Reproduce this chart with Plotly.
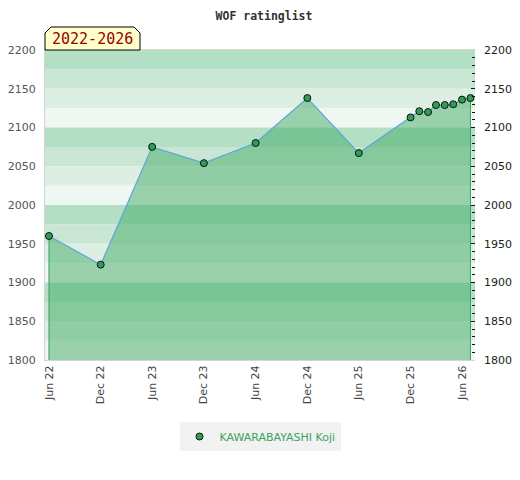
import plotly.graph_objects as go

# rating history
dates = ["2022-06-01", "2022-12-01", "2023-06-01", "2023-12-01", "2024-06-01",
         "2024-12-01", "2025-06-01", "2025-12-01", "2026-01-01", "2026-02-01",
         "2026-03-01", "2026-04-01", "2026-05-01", "2026-06-01", "2026-07-01"]
ratings = [1960, 1923, 2075, 2054, 2080, 2138, 2067, 2113, 2121, 2120,
           2129, 2129, 2130, 2136, 2138]
player = "KAWARABAYASHI Koji"
period = "2022-2026"

y_min, y_max = 1800, 2200
tick_dates = ["2022-06-01", "2022-12-01", "2023-06-01", "2023-12-01", "2024-06-01",
              "2024-12-01", "2025-06-01", "2025-12-01", "2026-06-01"]
tick_text = ["Jun 22", "Dec 22", "Jun 23", "Dec 23", "Jun 24",
             "Dec 24", "Jun 25", "Dec 25", "Jun 26"]

band_colors = ["#b3dfc4", "#c8e6d3", "#dcefe2", "#eef7f1"]
green = "#3aa35d"

fig = go.Figure()

# area under the line
fig.add_trace(go.Scatter(x=dates, y=ratings, fill="tozeroy", mode="none",
                         fillcolor="rgba(66,171,103,0.5)", showlegend=False,
                         hoverinfo="skip"))
# edges of the area
fig.add_trace(go.Scatter(x=[dates[0], dates[0], None, dates[-1], dates[-1]],
                         y=[y_min, ratings[0], None, y_min, ratings[-1]],
                         mode="lines", line=dict(color=green, width=1),
                         showlegend=False, hoverinfo="skip"))
# rating line
fig.add_trace(go.Scatter(x=dates, y=ratings, mode="lines",
                         line=dict(color="#5fa3dc", width=1.2),
                         showlegend=False))
fig.add_trace(go.Scatter(x=dates, y=ratings, mode="markers", name=player,
                         marker=dict(color="#2e9e57", size=7,
                                     line=dict(color="#111", width=1))))
# right axis dummy
fig.add_trace(go.Scatter(x=[dates[0]], y=[ratings[0]], yaxis="y2", mode="none",
                         showlegend=False, hoverinfo="skip"))

# background bands
for i, top in enumerate(range(y_max, y_min, -25)):
    fig.add_shape(type="rect", xref="paper", yref="y", x0=0, x1=1,
                  y0=top - 25, y1=top, fillcolor=band_colors[i % 4],
                  line_width=0, layer="below")

# period badge
fig.add_shape(type="path", xref="paper", yref="paper",
              path="M 0 1 L 0 1.0548 L 0.014 1.0742 L 0.207 1.0742 L 0.2209 1.0548 L 0.2209 1 Z",
              fillcolor="#ffffcc", line=dict(color="#000", width=1))
fig.add_annotation(xref="paper", yref="paper", x=0.1105, y=1.0355, text=period,
                   showarrow=False, xanchor="center", yanchor="middle",
                   font=dict(family="DejaVu Sans Mono", size=15, color="#990000"))

# the page body adds an 8px margin, so the figure is a bit smaller
fig.update_layout(
    width=512, height=472,
    margin=dict(l=37, r=45, t=42, b=120, autoexpand=False),
    paper_bgcolor="white", plot_bgcolor="white",
    title=dict(text="<b>WOF ratinglist</b>", x=0.5, xanchor="center",
               y=0.983, yanchor="middle",
               font=dict(family="DejaVu Sans Mono", size=11.5, color="#333")),
    font=dict(family="DejaVu Sans", size=11, color="#555"),
    xaxis=dict(type="date", range=["2022-05-18", "2026-07-17"], automargin=False,
               tickvals=tick_dates, ticktext=tick_text, tickangle=-90,
               showgrid=False, zeroline=False, ticks="",
               showline=True, linecolor="#d4d4d4", mirror=True,
               tickfont=dict(size=11, color="#444")),
    yaxis=dict(range=[y_min, y_max], dtick=50, showgrid=False, zeroline=False,
               ticks="", showline=True, linecolor="#d4d4d4", automargin=False,
               ticklabelstandoff=6, tickfont=dict(size=11, color="#555")),
    yaxis2=dict(range=[y_min, y_max], dtick=50, overlaying="y", side="right",
                showgrid=False, zeroline=False, ticks="inside", ticklen=4,
                tickcolor="#111", ticklabelstandoff=8, automargin=False,
                minor=dict(dtick=10, ticks="inside", ticklen=3, tickcolor="#111"),
                tickfont=dict(size=11, color="#222")),
    legend=dict(orientation="h", x=0.5, xanchor="center", y=-0.2, yanchor="top",
                itemwidth=30, bgcolor="#f2f2f2", font=dict(size=11, color=green)),
)

fig.write_html("out.html")
